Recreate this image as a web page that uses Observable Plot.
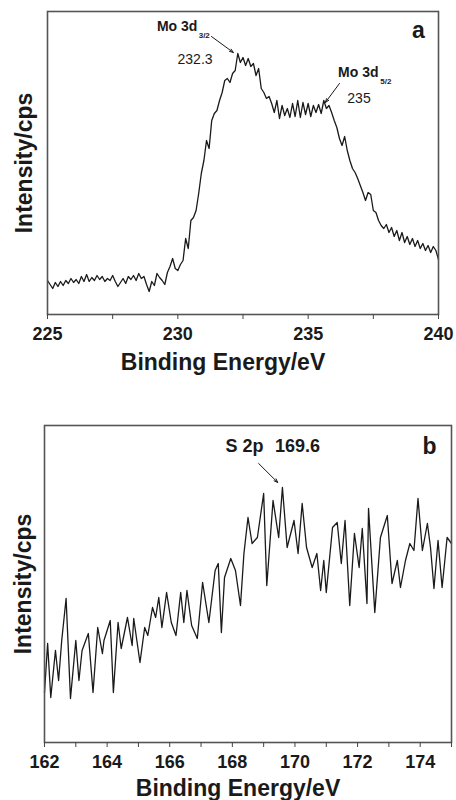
<!DOCTYPE html>
<html><head><meta charset="utf-8">
<script src="https://cdn.jsdelivr.net/npm/d3@7"></script>
<script src="https://cdn.jsdelivr.net/npm/@observablehq/plot@0.6"></script>
<style>
body{margin:0;background:#fff;}
#c svg{display:block;}
</style>
</head><body><div id="c"></div>
<script>
// ---------- Panel a: Mo 3d ----------
const energyA = [
225.0,225.1,225.2,225.3,225.4,225.5,225.6,225.7,225.8,225.9,
226.0,226.1,226.2,226.3,226.4,226.5,226.6,226.7,226.8,226.9,
227.0,227.1,227.2,227.3,227.4,227.5,227.6,227.7,227.8,227.9,
228.0,228.1,228.2,228.3,228.4,228.5,228.6,228.7,228.8,228.9,
229.0,229.1,229.2,229.3,229.4,229.5,229.6,229.7,229.8,229.9,
230.0,230.1,230.2,230.3,230.4,230.5,230.6,230.7,230.8,230.9,
231.0,231.1,231.2,231.3,231.4,231.5,231.6,231.7,231.8,231.9,
232.0,232.1,232.2,232.3,232.4,232.5,232.6,232.7,232.8,232.9,
233.0,233.1,233.2,233.3,233.4,233.5,233.6,233.7,233.8,233.9,
234.0,234.1,234.2,234.3,234.4,234.5,234.6,234.7,234.8,234.9,
235.0,235.1,235.2,235.3,235.4,235.5,235.6,235.7,235.8,235.9,
236.0,236.1,236.2,236.3,236.4,236.5,236.6,236.7,236.8,236.9,
237.0,237.1,237.2,237.3,237.4,237.5,237.6,237.7,237.8,237.9,
238.0,238.1,238.2,238.3,238.4,238.5,238.6,238.7,238.8,238.9,
239.0,239.1,239.2,239.3,239.4,239.5,239.6,239.7,239.8,239.9,
240.0];
const intensityA = [
34,30,26,32,28,33,29,34,31,36,
32,35,31,38,33,40,33,37,34,39,
35,38,33,36,34,39,33,28,32,36,
31,38,35,39,34,41,36,38,30,23,
33,29,41,37,34,30,42,48,56,46,
44,50,54,76,66,94,97,104,121,141,
154,174,166,194,201,204,214,222,234,236,
232,241,244,261,252,257,249,256,248,251,
239,246,226,222,216,218,211,202,214,196,
209,199,206,197,211,198,214,197,212,200,
211,198,209,202,210,201,214,206,209,202,
194,187,176,169,178,164,154,146,142,136,
129,122,114,122,120,104,102,94,89,86,
90,82,87,78,84,74,82,72,78,70,
76,68,74,66,71,64,69,62,68,64,
55];
const ticksA = [225,227.5,230,232.5,235,237.5,240];
const labelTicksA = [225,230,235,240];

// ---------- Panel b: S 2p ----------
const energyB = [162.0,162.1,162.2,162.35,162.45,162.55,162.69,162.83,163.0,163.1,163.2,163.4,163.55,163.7,163.85,163.9,
164.1,164.2,164.35,164.45,164.65,164.8,164.85,165.05,165.2,165.3,165.45,165.55,165.65,165.75,165.9,166.05,
166.2,166.35,166.45,166.55,166.7,166.88,167.05,167.25,167.45,167.55,167.65,167.75,167.95,168.1,168.26,168.37,
168.5,168.63,168.8,169.0,169.1,169.3,169.48,169.6,169.75,169.97,170.1,170.23,170.37,170.55,170.7,170.82,
170.92,171.0,171.2,171.35,171.48,171.6,171.75,171.9,172.05,172.15,172.3,172.35,172.55,172.73,172.95,173.1,
173.27,173.37,173.53,173.67,173.8,173.93,174.07,174.23,174.33,174.44,174.57,174.7,174.86,175.0];
const intensityB = [50,99,45,92,62,102,144,44,102,62,92,109,50,115,89,102,
122,50,120,94,125,97,124,80,115,107,135,125,145,115,150,120,
107,150,120,152,117,104,160,120,172,179,110,165,184,172,137,189,
225,199,205,249,157,242,205,255,195,222,189,239,195,175,189,152,
182,150,215,220,179,222,137,209,175,214,139,234,130,205,227,159,
182,155,182,199,192,244,192,219,195,154,202,155,205,199];
const ticksB = [162,163,164,165,166,167,168,169,170,171,172,173,174,175];
const labelTicksB = [162,164,166,168,170,172,174];

// ---------- Annotations ----------
const boldA = [
  {text:"Mo 3d", x:230.75, y:288, size:14, anchor:"end"},
  {text:"3/2", x:230.80, y:279, size:8, anchor:"start"},
  {text:"Mo 3d", x:237.70, y:242, size:14, anchor:"end"},
  {text:"5/2", x:237.77, y:233, size:8, anchor:"start"},
  {text:"a", x:239.23, y:284, size:23, anchor:"middle"}
];
const plainA = [
  {text:"232.3", x:230.66, y:255, size:14, anchor:"middle"},
  {text:"235", x:236.95, y:216, size:14, anchor:"middle"}
];
const arrowsA = [
  {x1:231.29, y1:278, x2:232.13, y2:262},
  {x1:236.20, y1:231, x2:235.66, y2:212}
];
const boldB = [
  {text:"S 2p", x:168.39, y:296, size:18, anchor:"middle"},
  {text:"169.6", x:170.08, y:296, size:18, anchor:"middle"},
  {text:"b", x:174.30, y:296, size:23, anchor:"middle"}
];
const plainB = [];
const arrowsB = [{x1:168.84, y1:279, x2:169.45, y2:260}];

const FONT = "'Liberation Sans', Arial, Helvetica, sans-serif";
const INK = "#1a1a1a";

function annotText(data, weight) {
  return ["start", "middle", "end"].map(a =>
    Plot.text(data.filter(d => d.anchor === a), {x: "x", y: "y", text: "text",
      fontSize: d => d.size, fontWeight: weight, textAnchor: a, fill: INK}));
}

function panel({energy, intensity, xDomain, yDomain, ticks, labelTicks, bold, plain, arrows,
                height, mt, mb, ml, mr, titleDy, titleDx, ylabDx}) {
  const rows = energy.map((e, i) => ({e, v: intensity[i]}));
  return Plot.plot({
    width: 456, height,
    marginTop: mt, marginBottom: mb, marginLeft: ml, marginRight: mr,
    style: {fontFamily: FONT, background: "#fff", color: INK},
    x: {domain: xDomain},
    y: {domain: yDomain, axis: null},
    marks: [
      Plot.line(rows, {x: "e", y: "v", stroke: INK, strokeWidth: 1.3, strokeLinejoin: "round"}),
      Plot.frame({stroke: "#555", strokeWidth: 1.6}),
      Plot.axisX({ticks, tickSize: 5, tickPadding: 8, fontSize: 18, fontWeight: "bold",
                  tickFormat: d => labelTicks.includes(d) ? String(d) : "", label: null,
                  stroke: "#444"}),
      Plot.text(["Binding Energy/eV"], {frameAnchor: "bottom", lineAnchor: "middle", dy: titleDy, dx: titleDx,
                fontSize: 23, fontWeight: "bold", fill: INK}),
      Plot.text(["Intensity/cps"], {frameAnchor: "left", textAnchor: "middle", lineAnchor: "middle",
                rotate: -90, dx: ylabDx, fontSize: 23, fontWeight: "bold", fill: INK}),
      Plot.arrow(arrows, {x1: "x1", y1: "y1", x2: "x2", y2: "y2", stroke: INK,
                 strokeWidth: 1, headLength: 6, headAngle: 40}),
      ...annotText(bold, "bold"),
      ...annotText(plain, "normal")
    ]
  });
}

const el = document.getElementById("c");
el.append(panel({
  energy: energyA, intensity: intensityA, xDomain: [225, 240], yDomain: [0, 303],
  ticks: ticksA, labelTicks: labelTicksA, bold: boldA, plain: plainA, arrows: arrowsA,
  height: 380, mt: 11, mb: 66, ml: 47, mr: 18, titleDy: 48, titleDx: -20, ylabDx: -23
}));
el.append(panel({
  energy: energyB, intensity: intensityB, xDomain: [162, 175], yDomain: [0, 317],
  ticks: ticksB, labelTicks: labelTicksB, bold: boldB, plain: plainB, arrows: arrowsB,
  height: 420, mt: 45, mb: 58, ml: 44, mr: 5, titleDy: 46, titleDx: -10, ylabDx: -21
}));
</script>
</body></html>
